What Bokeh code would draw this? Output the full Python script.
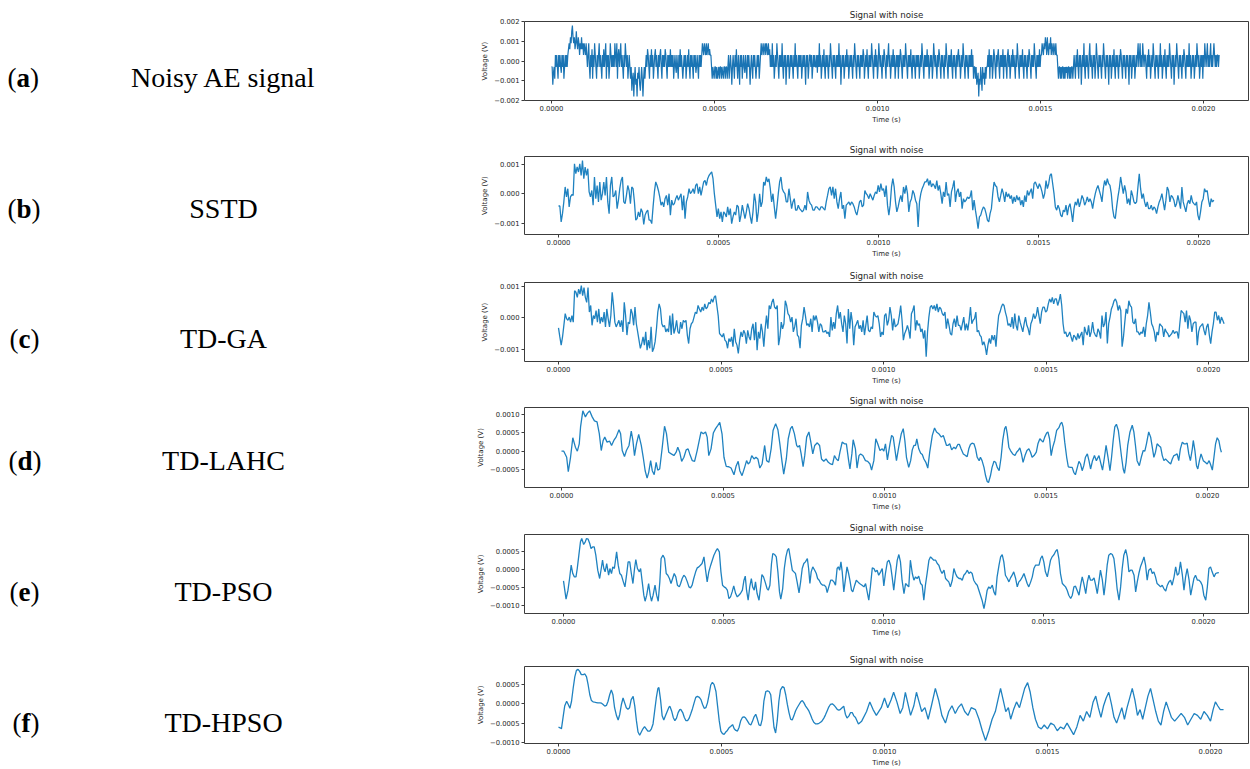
from bokeh.plotting import figure
from bokeh.layouts import row, column
from bokeh.models import Range1d, FixedTicker
from bokeh.core.properties import value
from bokeh.embed import file_html
from bokeh.resources import INLINE

# ---------------- data ----------------
TITLE = "Signal with noise"
X_LABEL = "Time (s)"
Y_LABEL = "Voltage (V)"
DURATION_US = 2048
XTICKS = [0.0, 0.0005, 0.0010, 0.0015, 0.0020]
XTICK_LABELS = ["0.0000", "0.0005", "0.0010", "0.0015", "0.0020"]

LETTERS = ["a", "b", "c", "d", "e", "f"]
METHODS = ["Noisy AE signal", "SSTD", "TD-GA", "TD-LAHC", "TD-PSO", "TD-HPSO"]

# (a) quantised noisy signal, in ADC steps of 0.3 mV, uniform sampling
A_STEP_V = 0.0003
A_LEVELS = [
    -1, -1, -4, -2, -1, -3,
    1, -1, 1, -1, -3, 1, -1, 1, -1, -2, 1, -1, 1, -3, -1, 1, -1, 1, -1,
    1, 2, 3, 2, 4, 3, 5, 6, 4, 3, 4, 2, 3, 5, 3, 2, 4, 3, 1, 3, 2, 4, 2, 3, 1, 3, 2, 1, 3, 1,
    -1, 1, 3, -1, -3, 1, -1, 2, -3, 1, -1, 3, 1, -1, -3, 1, -1, 1, 3, -1, 1, -1, -3, 1, -1, 2, -1, 1, 3, -3,
    1, -1, 1, -3, -1, 3, 1, -1, 1, -1,
    1, -1, 3, 1, -1, 3, -3, 1, 2, -1, 1, 3, -1, 1, -1, -3, 1, -1, 3, 1, -1, 1, -3, -1, 1,
    -1, -3, -1, -5, -3, -2, -6, -3, -1, -4, -3, -6, -2, -3, -1, -4, -5, -3, -1, -3, -6, -3, -1, -3, -1,
    1, -1, 2, 1, -1, -3, 1, -1, 2, -1, 1, -3, -1, 1, 2, -1, 1, -1, -3, 1, -1, 1, 2, -1, -3, 1, -1, 1, -1, 2,
    1, -1, -3, 1, -1, 1, -1, 2, -1, 1,
    -1, 1, -3, -1, 1, -1, -2, 1, -1, -3, 1, -1, 2, -1, 1, -1, -3, -1, 1, -1, 1, -3, -1, 1, -1, 2, -1, -3, 1, -1,
    1, -1, -3, 1, -1, 1, -2, -1, 1, -1, -3, 1, -1, 1, -1,
    1, 3, 2, 1, 3, 2, 1, 3, 1, 2, 3, 1, 2, 1, 1,
    -1, -3, -1, -2, -3, -1, -1, -3, -1, -3, -2, -1, -3, -1, -1, -3, -1, -2, -3, -1, -1, -3, -1, -1, -3,
    -1, 1, -3, -1, 1, -1, -4, -1, 1, -1, -3, 1, -1, 2, -1, -3, 1, -1, -4, 1, -1, 1, -3, -1, 1, -1, -2, 1, -1, -3,
    1, -1, 1, -1, -4, -1, 1, -1, -3, 1, -1, 1, -1, -3, -1, 1, -1, 1, -3, -1,
    1, 3, 1, 2, 3, 1, 2, 3, 1, 3, 2, 1, 3, 1, 2,
    -1, 1, -1, 3, -1, 1, -3, -1, 1, -1, 3, 1, -1, -3, 1, -1, 1, -1, 3, -1,
    -3, 1, -1, 1, -4, -1, 1, -1, 1, -3, -1, 1, -1, 1, -1, -3, 1, -1, 3, -1,
    1, -1, -3, 1, -1, 1, -1, 1, -3, -1, 1, -1, 1, -1, -4, 1, -1, 1, -3, -1,
    1, 1, -1, 1, -3, -1, 1, -1, 1, -1, -1, 1, -2, 1, -1, 3, -1, 1, -3, -1,
    1, -1, 2, -1, -3, 1, -1, 1, -1, -3, 1, -1, 3, 1, -1, -3, 1, -1, 1, -1,
    -3, 1, -1, 1, -1, 3, -1, 1, -4, -1, 1, -1, 1, -3, -1, 1, -1, 2, -1, 1,
    -3, -1, 1, -1, 1, -1, -3, 1, -1, 3, 1, -1, -3, 1, -1, 1, -1, -3, 1, -1,
    1, -1, 2, 1, -3, -1, 1, -1, 2, -1, -3, 1, -1, 1, -1, 3, 1, -1, -3, 1,
    -1, 2, -1, 1, -3, -1, 3, 1, -1, 1, -1, -3, 1, -1, 2, 1, -1, -3, 1, -1,
    1, 3, -1, 1, -3, -1, 1, -1, 2, -1, 1, -3, -1, 1, -1, 1, -3, 1, -1, 2,
    1, -1, -3, 1, -1, 1, -1, 3, 1, -1, -3, 1, -1, 1, -1, 2, -1, -3, 1, -1,
    1, -1, -3, 1, -1, 1, -1, 1, -3, -1, 1, -1, 3, 1, -1, -3, 1, -1, 1, -1,
    2, -1, 1, -3, -1, 1, -1, 1, -3, -1, 3, 1, -1, 1, -1, -3, 1, -1, 2, 1,
    -1, -3, 1, -1, 1, -1, -3, 1, -1, 3, 1, -1, -3, 1, -1, 1, -1, 2, -1, -3,
    1, -1, 1, -1, -3, 1, -1, 1, 2, -1, 1, -3, -1, 1, -1, 3, 1, -1, -3, 1,
    -1, 1, -1, -3, 1, -1, 1, -1, 2, -1, 1, -3, -1,
    -1, -3, -1, -4, -3, -2, -6, -3, -4, -1, -3, -5, -1, -3, -2, -4, -1, -3, -1, -1,
    1, -1, 2, -3, 1, -1, 1, -3, -1, 2, 1, -1, -3, 1, -1, 1, 2, -1, -3, 1,
    -1, 1, -1, 2, -3, 1, -1, 1, -1, -3, 1, 2, -1, 1, -3, -1, 1, -1, 2, -1,
    1, -1, -3, 1, -1, 3, 1, -1, -3, 1, -1, 1, -1, 2, -1, -3, 1, -1, 1, -1,
    -3, 1, -1, 2, 1, -1, -3, 1, -1, 1, -1, 3, 1, -1, -3, 1, -1, 1, -1, 2,
    -1, 1,
    1, 3, 2, 1, 3, 2, 4, 3, 1, 4, 2, 1, 3, 2, 4, 1, 3, 2, 1, 3, 2, 1, 3, 1, 1,
    -1, -3, -1, -1, -3, -1, -3, -1, -1, -3, -1, -3, -1, -2, -1, -3, -1, -1, -3, -1, -3, -1, -1, -3, -1,
    1, -1, -3, 1, -1, 2, -1, -3, 1, -1, 1, -4, -1, 1, -1, 3, -1, -3, 1, -1,
    1, -1, -3, 1, 3, -1, 1, -1, -3, 1, -1, 1, -3, -1, 3, 1, -1, -3, 1, -1,
    1, -1, -3, 1, -1, 3, 1, -1, -3, 1, -1, 1, -1, -4, 1, -1, 1, -3, -1, 1,
    -1, 2, -1, -3, 1, -1, 1, -1, -3, 1, -1, 2, 1, -1, -3, 1, -1, 1, -1, -3,
    1, -1, 1, -1, -4, 1, -1, 1, -3, -1, 1, -1, 1, -3, -1, 1, -1, 1, 3, -1,
    1, 3, -1, 1, -1, 3, 1, -1, 1, 1, -1, -3, 1, -1, 2, -1, 1, -3, -1, 1,
    -1, 3, 1, -1, -3, 1, -1, 1, -1, -3, 1, -1, 3, -1, 1, -3, -1, 1, -1, 2,
    -1, -3, 1, -1, 1, -1, 3, 1, -1, -3, 1, -1, 1, -4, -1, 1, -1, 3, 1, -1,
    -3, 1, -1, 1, -1, -3, 1, -1, 2, 1, -1, -3, 1, -1, 1, -1, 3, -1, 1, -3,
    -1, 1, -1, 1, -3, -1, 1, -1, 3, 1, -1, 1, -3, -1, 1, -1, 1, -3, 1, -1,
    3, 1, -1, 1, 3, -1, 1, -1, 1, 3, -1, 1, -1, 1, 3, 1, -1, 1, -1, 1,
    1, -1, 1]

# (b) SSTD, values in 1e-4 V, uniform sampling
B_V = [-4.1, -4.1, -9.5, -6.7, -2.7, 2.4, -1.0, 1.8, -4.4, -1.0, -0.2, -0.5, 10.3, 6.9, 9.2, 7.5, 10.3, 6.3, 11.4, 5.2,
       9.2, 6.3, 8.6, 0.7, -1.0, 1.2, -3.8, 5.8, -1.6, 2.9, -2.7, 4.1, -2.1, 0.1, 4.1, -0.5, 5.8, -2.7, -6.7, 2.9,
       5.8, -1.0, -0.5, 1.2, -5.0, -2.1, 1.8, 4.6, 5.8, -2.7, -3.3, -0.5, 2.9, 1.2, -3.3, 2.4, 1.8, -2.7, -8.9, -8.4,
       -6.1, -7.8, -5.0, -6.1, -10.4, -7.2, -6.1, -5.5, -8.9, -8.9, -10.1, -4.4, 0.7, 4.1, 2.9, 1.2, -1.0, -3.8, -2.7, -4.4,
       -1.6, -0.5, -3.8, 0.1, -7.2, -2.1, -3.8, -3.3, -1.6, -0.5, -2.1, -1.0, 0.1, -5.5, -0.5, -8.4, -2.7, -1.0, 1.8, 0.1,
       0.7, 1.8, 0.1, 2.9, 3.5, 0.1, 2.4, -0.5, 1.8, 4.1, 4.6, 2.9, 5.2, 6.3, 6.9, 7.5, 5.2, 0.1, -3.8, -7.8,
       -5.0, -8.4, -6.1, -9.5, -6.1, -6.7, -7.8, -4.4, -7.2, -5.0, -10.1, -7.8, -6.1, -7.2, -3.8, -4.4, -9.5, -7.2, -3.8, -6.1,
       -8.4, -6.1, -3.3, -5.0, -7.8, -10.1, -6.1, 0.1, -2.7, -9.5, -6.1, 0.1, -4.4, -2.7, 4.1, 2.9, 5.8, 4.1, 5.2, 1.8,
       -2.7, 0.1, -4.4, -8.4, -4.4, 0.1, 4.1, 5.8, 1.8, 0.7, 0.1, -2.7, -2.7, 1.8, -1.6, -5.0, -2.7, -1.6, -5.5, -5.5,
       -3.8, -5.0, -5.5, -6.1, -5.5, -3.8, -5.5, 0.7, -2.1, -3.3, -3.8, -5.5, -5.5, -4.4, -4.4, -5.0, -5.5, -4.4, -4.4, -5.0,
       -5.5, -2.7, -0.5, 1.8, 2.4, -0.5, 2.4, -1.6, 1.8, -2.7, -5.0, -1.6, 0.7, -5.0, -3.8, -8.4, -3.8, -3.3, -2.7, -3.8,
       -2.7, -3.3, -4.4, -6.1, -7.2, -5.0,
       -2.7, -2.1, -4.4, -3.8, 1.2, 0.1, -0.5, -1.6, 0.1, -1.0, -2.1, -0.5, 0.7, 0.1, 2.9, 0.7, 3.5, 1.2, 1.8, -1.0,
       2.9, -3.8, -7.2, -3.8, 2.4, 5.2, 2.4, -2.7, -6.1, -4.4, -2.1, -0.5, -2.7, 2.4, 0.1, 2.9, 0.1, -6.1, -2.7, -1.6,
       1.2, 0.1, -2.1, -3.3, -11.2, -2.7, 0.1, 1.8, 2.9, 4.1, 4.1, 5.2, 2.9, 4.6, 2.4, 3.5, 2.9, 1.8, 4.6, 1.2,
       2.9, 0.1, -3.3, 0.7, -1.0, 4.1, -0.5, 0.1, -4.4, 0.7, 2.4, 4.6, -2.7, 0.7, 1.8, -1.0, 0.7, -5.0, -1.6, -2.7,
       -2.1, -1.0, -1.6, -1.0, 1.2, -5.5, -2.1, -5.5, -8.4, -11.8, -7.8, -7.2, -5.5, -4.4, -5.0, -6.7, -8.9, -9.5, -6.7, -5.0,
       0.1, 4.1, 2.9, 2.4, -1.0, -2.7, -0.5, 1.8, 0.1, -2.7, 0.7, -1.0, 0.1, -1.6, -0.5, -3.3, -1.0, -2.7, -0.5, -2.1,
       -1.0, -3.8, -2.1, -4.4, -0.5, -2.7, 1.2, -0.5, 0.7, 1.8, -1.6, 3.5, 4.1, 2.9, 1.8, 3.5, 2.4, 0.7, -1.6, 0.1,
       4.6, 1.8, 3.5, 6.3, 6.9, 3.5, 0.1, -4.4, -5.5, -3.8, -5.0, -7.2, -7.8, -5.5, -6.1, -3.8, -7.2, -4.4, -3.3, -6.1,
       -9.5, -5.0, -2.7, -3.8, -1.6, -4.4, -2.7, -0.5, -1.6, -3.8, -2.7, -1.0, -2.7, -1.6, -2.7, -5.0, -2.1, 0.1, 1.8, 2.9,
       1.2, -0.5, -2.7, 1.8, 4.6, 2.9, 5.2, 3.5, 2.9, 0.1, -5.0, -7.8, -8.4, -4.4, -1.0, 1.8, 5.8, 2.9, 0.1, 2.9,
       0.7, -3.3, -1.6, -3.8, 1.2, -0.5, -2.7, -3.3, -2.7, 2.4, 6.9, 1.8, -1.6, 0.1, -2.7, -4.4, -2.7, -5.0, -5.0, -3.8,
       -5.5, -4.4, -5.0, -6.7, -4.4, -2.7, -1.6, 0.1, -2.7, -5.5, -2.1, 2.4, 1.2, -2.7, -0.5, -1.0, -2.1, -4.4, -3.3, -0.5,
       -2.7, -5.0, 2.4, -2.7, -4.4, -6.1, -3.3, -2.1, -3.3, -0.5, -2.7, -3.3, -3.8, -2.7, -7.2, -8.9, -6.1, -2.7, -1.6, 1.8,
       0.7, 1.2, -2.1, -4.4, -1.6, -2.7, -2.1]

# (c) TD-GA, values in 1e-4 V, uniform sampling
C_V = [-3.2, -6.1, -8.7, -6.1, -2.4, 1.3, -0.3, -0.8, 0.2, -1.4, 0.7, -1.4, 8.6, 8.1, 6.5, 9.1, 7.5, 10.2, 7.0, 9.6,
       6.5, 4.9, 9.6, 1.8, 3.9, -2.4, 0.7, -0.3, 2.3, -1.4, 2.8, -1.9, 0.2, -1.4, 1.8, -2.9, 2.8, -0.3, -2.9, 0.7,
       8.1, 3.9, -1.4, -2.9, -1.9, -0.8, -2.9, -0.8, -4.5, 4.9, 0.7, -5.5, -1.4, -1.9, 2.8, 1.3, -2.4, 3.4, -1.9, -4.5,
       -7.1, -9.7, -8.2, -6.1, -8.7, -4.5, -10.3, -7.1, -9.7, -2.9, -10.8, -9.7, -7.6, -3.5, 1.8, 4.4, 2.8, -1.9, -2.9, -2.4,
       -4.5, -3.5, -4.5, 0.7, -5.5, 1.3, -5.0, -3.5, -0.8, -4.5, -5.0, -1.4, -3.5, -0.8, -1.4, -0.8, -5.5, -8.2, -3.5, -1.9,
       -1.4, 0.2, 1.8, 1.3, 3.9, 2.8, 1.8, 3.4, 2.3, 4.4, 2.8, 3.4, 4.9, 4.4, 6.0, 4.9, 6.5, 7.0, 3.9, 0.7,
       -5.0, -5.5, -6.1, -5.0, -7.1, -7.6, -9.7, -6.6, -7.6, -6.1, -9.2, -3.5, -7.6, -8.7, -11.3, -7.1, -4.5, -6.1, -4.0, -5.0,
       -8.2, -4.0, -6.1, -7.1, -3.5, -1.9, -7.1, -1.4, -10.3, -4.5, -6.6, -1.9, -4.5, -9.2, -3.5, 0.7, -3.5, 3.9, 2.8, 4.9,
       6.0, 3.4, 2.8, 3.9, -8.7, -6.1, -1.4, -3.5, -1.9, 5.4, 3.9, 1.3, 0.7, -1.4, 0.2, -4.5, -2.9, -0.3, -5.5, -6.1,
       -9.7, -2.4, -0.3, 3.4, 0.7, -2.4, -1.9, -2.9, -0.3, -4.5, 0.7, -0.8, 0.7, -1.4, -4.5, -1.9, -2.4, -4.5, -4.5, -4.0,
       -5.0, -4.5, -6.1, 0.2, -4.0, -1.4, -3.5, 1.3, 3.9, -0.3, 1.8, -1.9, -4.5, 0.7, -1.9, -8.2, 2.8, -3.5, 1.8, -1.4,
       -8.7, -2.9, -1.9, -0.8, -3.5, -2.4, -4.5,
       -0.8, -5.5, -2.4, 0.7, -4.0, -4.5, -2.9, -3.5, 1.8, 0.7, 0.2, 0.7, -1.9, -6.1, -4.5, -5.5, 0.7, 1.3, -2.4, -0.8,
       3.4, 0.7, -4.0, -0.3, -2.9, -2.4, -1.9, 0.7, 3.9, -0.8, -7.1, -5.0, -4.0, -2.4, -4.0, -6.6, 1.3, 2.3, 3.9, -4.0,
       -0.8, -2.4, -1.9, -4.5, -3.5, -6.6, -4.0, -12.4, -4.5, 0.2, 3.4, 3.9, 2.8, 3.9, 2.3, 4.4, 1.8, 3.4, 2.8, 1.3,
       0.7, 1.8, -3.5, -0.3, -2.4, -5.0, -5.5, -1.9, -0.3, -2.9, 0.7, -2.4, -2.4, -4.0, -1.9, 0.2, -4.0, -1.9, -4.0, -0.8,
       3.4, -1.9, -0.8, -0.3, 1.8, -4.5, -4.0, -5.5, -6.1, -8.7, -7.6, -9.2, -11.8, -8.7, -6.6, -8.2, -5.5, -7.1, -5.5, -9.2,
       -3.5, 0.7, 1.8, 3.4, 4.4, 3.9, 1.8, 0.2, -2.4, -1.9, -2.9, 0.2, -3.5, 1.3, -2.4, -4.0, 0.7, -1.4, -2.9, -4.5,
       -1.9, 0.2, -2.4, -3.5, -5.5, -1.9, -0.8, 1.3, -0.3, 0.7, 3.4, 0.7, -1.9, 1.8, 3.4, 3.4, 1.8, 2.3, 4.4, 6.0,
       4.9, 6.5, 4.4, 6.0, 6.0, 3.9, 5.4, 7.5, 3.9, -1.9, -5.0, -4.5, -6.1, -5.5, -4.5, -6.1, -7.6, -5.5, -6.1, -7.1,
       -5.0, -6.6, -5.5, -4.5, -8.7, -2.9, -4.5, -5.5, -2.4, -6.1, -4.5, -1.4, -4.5, -5.5, -6.1, -3.5, -4.5, -6.6, 0.7, -2.9,
       -1.9, 1.8, -8.2, -1.9, 0.2, 2.8, 3.9, 5.4, 6.0, 4.9, 2.3, 3.9, 2.3, -9.2, -6.1, -1.4, 2.8, 1.3, 5.4, 3.9,
       3.4, -1.4, -1.9, -0.3, -4.5, -4.5, -5.5, -4.5, -5.0, -2.9, -6.1, -1.9, 0.7, 4.9, 1.8, -1.9, -2.9, -4.5, -7.6, -4.5,
       -5.5, -1.9, -2.4, -2.9, -6.1, -3.5, -4.5, -5.0, -6.1, -5.5, -5.0, -4.0, -5.0, -4.5, -4.5, -6.6, -1.9, 2.3, 1.8, 1.3,
       -1.4, 2.3, -3.5, 0.7, -0.8, -4.5, -1.9, -1.4, -1.4, -8.7, -4.5, -2.9, -2.4, -1.9, -4.0, -5.5, -2.9, -1.9, -5.5, -8.2,
       -4.5, -1.9, 1.8, 1.8, -0.8, 0.7, -1.9, 0.2, -0.8, -1.9]

# (d) TD-LAHC, (time in us, value in 1e-4 V)
D_PTS = [(0, 0), (7, 0), (16, -1.64), (21, -5.55), (28, -1.64), (35, 3.64), (43, 1.09), (49, 0), (55, 2.0), (59, 6.55),
         (66, 10.9), (74, 9.27), (80, 10.2), (87, 10.9), (95, 9.27), (102, 8.18), (110, 7.9), (117, 4.73), (123, 0.18),
         (129, 2.9), (134, 3.8), (141, 2.45), (149, 2.7), (155, 1.55), (162, 2.9), (169, 3.8), (178, 5.8), (183, 4.7),
         (188, 0.2), (195, -1.45), (201, 0.2), (209, 1.55), (216, 5.45), (221, 2.9), (226, -1.2), (232, 2.0), (239, 4.55),
         (247, 1.55), (253, -1.64), (259, -5.27), (265, -7.27), (270, -5.7), (276, -2.55), (281, -5.27), (287, -6.36),
         (293, -3.0), (298, -5.1), (304, -4.8), (312, 1.09), (319, 6.73), (325, 4.73), (332, -0.27), (340, -0.73),
         (348, -1.18), (355, -0.27), (360, 1.09), (366, -0.27), (372, -2.73), (379, -1.64), (386, 0.36), (392, 0.64),
         (397, -0.73), (405, -2.55), (412, -2.73), (420, 0.18), (427, 3.1), (432, 5.2), (439, 4.7), (446, 5.2), (451, 3.8),
         (456, -1.2), (463, 0.64), (470, 4.9), (477, 6.1), (484, 7.0), (490, 7.8), (497, 4.7), (503, -1.64), (510, -4.1),
         (518, -4.2), (525, -4.55), (534, -6.36), (541, -3.9), (547, -2.73), (552, -5.27), (559, -6.6), (567, -4.36),
         (573, -2.55), (578, -3.45), (583, -3.0), (589, -1.2), (596, -2.1), (602, -1.64), (608, -2.1), (614, -4.55),
         (621, -3.45), (629, 1.55), (635, -2.55), (642, -3.0), (649, 0.64), (655, 5.6), (663, 7.45), (670, 5.8), (676, 2.0),
         (683, -3.0), (688, -6.2), (696, -2.1), (702, 3.36), (709, 6.1), (714, 6.73), (721, 4.73), (728, 1.55), (732, 1.09),
         (737, 1.55), (742, -0.73), (748, -4.2), (753, -1.2), (759, 3.8), (766, 5.2), (771, 2.9), (778, -0.73), (784, 1.55),
         (792, 2.27), (799, 1.55), (805, -2.1), (812, -2.73), (819, -2.1), (826, -3.0), (833, -3.45), (839, -3.64),
         (845, -1.2), (851, -2.1), (857, -2.55), (862, -0.27), (869, 2.45), (876, 2.0), (882, 2.0), (889, -2.55),
         (893, -4.8), (899, -0.73), (903, 3.1), (910, 0.64), (915, -4.55), (921, -1.2),
         (926, -0.73), (933, -1.18), (941, -2.55), (948, -2.73), (955, -3.45), (960, -5.1), (967, -2.55), (973, 3.36),
         (979, 2.0), (986, 0.18), (993, 0.64), (998, 0), (1003, 2.0), (1009, -2.36), (1017, 2.0), (1022, 4.27), (1027, 3.8),
         (1032, 0.64), (1037, -2.55), (1044, 1.09), (1052, 4.73), (1058, 6.1), (1063, 2.9), (1068, -1.64), (1075, -4.36),
         (1081, -2.55), (1086, 0.36), (1091, 1.55), (1096, 1.55), (1100, 3.36), (1106, 0.64), (1112, -0.55), (1117, -0.91),
         (1122, -2.1), (1128, -3.0), (1134, -4.55), (1140, -0.27), (1148, 4.27), (1155, 6.27), (1161, 5.2), (1168, 4.73),
         (1176, 3.8), (1182, 4.27), (1187, 2.9), (1192, 1.55), (1196, 1.55), (1202, 2.0), (1208, 0.36), (1215, 1.09),
         (1220, 0.64), (1227, 1.82), (1232, 1.82), (1237, 0.64), (1244, -0.73), (1251, -1.18), (1256, -1.45), (1261, 0.64),
         (1266, 1.82), (1271, 2.18), (1277, 2.0), (1282, 0.64), (1287, -1.64), (1293, -2.55), (1297, -1.64), (1302, -2.55),
         (1308, -4.36), (1313, -6.64), (1318, -8.18), (1322, -8.45), (1328, -6.64), (1333, -4.36), (1339, -2.73),
         (1344, -3.0), (1349, -4.36), (1355, -5.27), (1361, -1.64), (1366, 2.9), (1372, 6.1), (1376, 6.73), (1380, 4.73),
         (1385, 1.09), (1390, 0.18), (1397, -0.73), (1404, -1.18), (1409, -0.27), (1414, 0.18), (1419, 0.91), (1424, -0.73),
         (1429, -3.0), (1435, -1.18), (1441, 0.18), (1447, 0.64), (1452, -0.27), (1457, -1.64), (1463, -1.18), (1470, -0.27),
         (1475, 2.0), (1481, 3.36), (1486, 2.9), (1491, 2.45), (1496, 3.8), (1502, 4.9), (1506, 5.2), (1511, 3.36),
         (1516, -1.18), (1521, 1.09), (1527, 2.9), (1533, 5.6), (1540, 6.36), (1545, 7.45), (1549, 7.8), (1553, 6.55),
         (1558, 2.45), (1564, -1.64), (1569, -4.2), (1576, -4.36), (1581, -4.36), (1586, -5.7), (1591, -6.36), (1597, -4.36),
         (1602, -2.73), (1607, -3.45), (1612, -5.27), (1617, -3.9), (1622, -1.64), (1628, -0.73), (1633, -2.55),
         (1638, -4.8), (1644, -2.55), (1650, -1.18), (1656, -2.55), (1664, -1.18), (1669, -3.0), (1675, -5.1), (1681, -1.64),
         (1686, 1.55), (1692, -1.64), (1698, -5.27), (1703, -1.64), (1708, 2.9), (1713, 6.55), (1718, 7.27), (1724, 5.6),
         (1729, 2.0), (1734, -1.64), (1739, -4.8), (1743, -6.0), (1748, -3.0), (1753, 1.55), (1760, 5.2), (1767, 7.0),
         (1772, 5.2), (1777, 1.55), (1782, -2.55), (1789, -3.9), (1795, -1.64), (1801, 0.18), (1806, 0), (1811, 2.0),
         (1818, 5.2), (1824, 3.8), (1829, 1.09), (1834, -1.64), (1839, -0.27), (1844, 2.0), (1849, 1.55), (1855, 1.09),
         (1860, -1.18), (1865, -2.55), (1870, -2.1), (1875, -2.55), (1880, -3.0), (1886, -3.45), (1891, -2.1), (1896, -1.18),
         (1901, -1.0), (1906, -0.73), (1911, -2.55), (1916, 0.64), (1922, 2.45), (1927, 2.0), (1933, 2.0), (1937, 2.18),
         (1942, -0.73), (1947, -2.55), (1953, 0.64), (1956, 2.9), (1961, 0.18), (1966, -3.9), (1970, -4.8), (1975, -2.55),
         (1980, -0.73), (1987, -2.55), (1993, -3.0), (1999, -3.45), (2005, -2.55), (2009, -3.45), (2015, -5.1),
         (2020, -1.64), (2025, 2.0), (2030, 3.64), (2035, 2.9), (2040, 0.64), (2043, -0.27)]

# (e) TD-PSO, (time in us, value in 1e-4 V)
E_PTS = [(0, -3.24), (4, -5.83), (8, -8.33), (14, -5.83), (19, -2.59), (24, 1.11), (29, -1.2), (34, -2.13), (39, -2.13),
         (43, 0.19), (48, 3.89), (53, 7.59), (57, 8.52), (63, 6.85), (68, 7.59), (72, 8.52), (77, 8.33), (82, 7.13),
         (86, 5.74), (92, 6.2), (96, 6.2), (101, 3.89), (107, -0.28), (113, -2.59), (118, 0.19), (122, 2.5), (126, 0.19),
         (130, -0.74), (135, 1.57), (141, -1.67), (145, 0.19), (150, -1.2), (154, 0.65), (159, 0.19), (166, 4.81),
         (171, 1.11), (176, -1.2), (181, -1.67), (187, -3.52), (192, -4.91), (197, -1.67), (202, 2.04), (207, 2.04),
         (212, -1.2), (217, -3.98), (222, 0.19), (226, 2.69), (231, 0.19), (237, -0.74), (241, 0.19), (246, -3.52),
         (251, -7.22), (255, -8.89), (260, -7.22), (266, -3.98), (271, -7.22), (275, -8.89), (280, -7.22), (286, -4.44),
         (291, -7.22), (296, -8.89), (301, -3.52), (305, 2.96), (311, 3.89), (316, 2.96), (321, -1.2), (326, -1.67),
         (331, -2.59), (336, -3.98), (341, -2.59), (346, -1.2), (351, -2.13), (356, -4.44), (362, -4.91), (366, -3.98),
         (371, -2.59), (376, -1.67), (381, -2.13), (387, -3.52), (392, -4.91), (397, -5.19), (402, -4.44), (407, -2.59),
         (413, -0.74), (418, 0.37), (423, 0.65), (428, 1.11), (433, 1.57), (439, 3.43), (444, -0.28), (449, -3.52),
         (454, -0.74), (460, 1.11), (465, 2.5), (470, 3.89), (476, 5.0), (481, 5.74), (487, 4.81), (492, -0.74),
         (497, -4.44), (502, -4.91), (507, -5.19), (512, -5.83), (517, -8.15), (522, -7.69), (527, -6.3), (532, -4.63),
         (538, -6.76), (543, -7.69), (548, -7.22), (553, -6.76), (559, -5.83), (564, -3.06), (568, -1.94), (572, -5.83),
         (577, -8.61), (582, -4.91), (587, -2.59), (591, -4.91), (596, -5.83), (600, -3.52), (605, -6.76), (611, -8.61),
         (616, -4.91), (620, -1.48), (625, -2.13), (630, -3.52), (636, -5.37), (640, -5.83), (645, -4.44), (650, 1.57),
         (654, 4.35), (660, 4.07), (665, 3.43), (670, -0.74), (675, -6.3), (679, -8.33), (685, -5.37), (690, 0.19),
         (695, 3.43), (700, 5.28), (704, 5.74), (710, 2.5), (715, -0.28), (720, -0.74), (725, -1.2), (730, -3.52),
         (736, -6.57), (741, -3.52), (746, 0.19), (751, 1.57), (756, 2.04), (762, 2.96), (766, 0.19), (770, -3.98),
         (774, -0.74), (779, 0.65), (785, -0.28), (790, -1.2), (794, -2.59), (799, -3.06), (804, -3.98), (810, -4.44),
         (815, -4.44), (820, -4.91), (824, -6.48), (829, -4.91), (835, -3.06), (840, -3.06), (845, -3.52), (850, -4.44),
         (855, 0.19), (859, 0.65), (863, -0.28), (867, 2.04), (871, -0.74), (876, -6.3), (880, -3.52), (886, 0.65),
         (891, -1.2), (895, -3.06), (900, -5.83), (904, -6.3), (910, -4.44), (915, -3.06), (920, -3.52), (925, -3.98),
         (933, -4.44), (939, -4.91), (944, -3.98), (949, -6.3), (954, -8.61), (959, -4.91), (965, 0.37), (970, 0.19),
         (975, -0.74), (980, -0.28), (985, -1.67), (991, -0.74), (996, 0.19), (1001, -4.63), (1006, -1.2), (1012, 2.04),
         (1017, 2.5), (1022, 1.11), (1027, -2.13), (1032, -5.83), (1038, -1.2), (1043, 2.5), (1048, 4.07), (1053, 2.04),
         (1058, -3.06), (1064, -6.76), (1069, -3.98), (1074, -4.44), (1079, -4.91), (1084, 2.5), (1090, -1.2), (1095, -3.06),
         (1100, -2.13), (1105, -2.59), (1110, -1.94), (1116, -3.98), (1121, -4.44), (1126, -8.61), (1131, -4.44),
         (1137, -0.74), (1142, 2.5), (1147, 3.43), (1152, 2.96), (1157, 2.5), (1163, 2.5), (1168, 1.57), (1173, 1.11),
         (1178, -0.28), (1183, -1.2), (1189, -0.28), (1194, -2.59), (1199, -3.06), (1204, -3.52), (1209, -4.91),
         (1215, -3.06), (1220, 0.19), (1225, -1.2), (1230, -2.13), (1236, -2.59), (1241, -2.59), (1246, -3.06),
         (1251, -1.67), (1256, -1.2), (1262, -0.28), (1267, -1.2), (1272, -0.74), (1277, -1.2), (1282, -3.06), (1288, -3.98),
         (1293, -4.44), (1298, -5.83), (1303, -7.22), (1308, -8.61), (1314, -10.93), (1319, -8.61), (1324, -5.83),
         (1329, -4.91), (1334, -5.37), (1340, -4.44), (1345, -6.3), (1350, -7.22), (1355, -2.13), (1361, 1.11), (1366, 3.43),
         (1371, 4.07), (1376, 2.04), (1381, -1.67), (1387, -2.59), (1392, -3.52), (1397, -2.41), (1402, -1.67),
         (1407, -0.74), (1413, -2.59), (1418, -4.91), (1423, -3.52), (1428, -3.06), (1434, -2.13), (1439, -1.2),
         (1444, -2.59), (1449, -3.98), (1454, -4.91), (1460, -3.52), (1465, -2.13), (1470, 0.19), (1475, 1.11), (1480, 1.11),
         (1486, 1.11), (1491, 2.96), (1496, 3.7), (1501, 2.04), (1506, -0.74), (1512, -2.13), (1517, 0.19), (1522, 2.5),
         (1527, 3.43), (1533, 4.07), (1538, 5.0), (1543, 5.46), (1548, 2.96), (1553, -1.2), (1559, -3.98), (1564, -4.44),
         (1569, -4.91), (1574, -5.83), (1579, -7.22), (1585, -8.15), (1590, -7.22), (1595, -4.91), (1600, -4.72),
         (1605, -5.83), (1611, -7.22), (1616, -4.44), (1621, -2.13), (1626, -3.98), (1632, -6.76), (1637, -3.52),
         (1642, -1.67), (1647, -3.06), (1652, -3.06), (1658, -2.41), (1663, -4.44), (1668, -6.76), (1673, -3.52),
         (1678, -0.28), (1684, -3.06), (1689, -7.22), (1694, -3.52), (1699, 1.11), (1704, 3.89), (1710, 4.35), (1715, 4.07),
         (1720, 2.96), (1725, -0.74), (1730, -5.37), (1736, -8.61), (1741, -4.91), (1746, 0.19), (1751, 3.89), (1757, 5.46),
         (1762, 3.43), (1767, -0.74), (1772, -0.28), (1777, -0.28), (1783, -1.67), (1788, -6.3), (1793, -3.52), (1798, -1.2),
         (1803, 0.65), (1809, 2.04), (1814, 3.43), (1819, 1.11), (1824, -3.06), (1829, -0.28), (1835, 0.19), (1840, -1.2),
         (1845, -0.74), (1850, -2.13), (1855, -3.98), (1861, -4.44), (1866, -4.91), (1871, -4.44), (1876, -5.37),
         (1882, -6.11), (1887, -4.44), (1892, -3.52), (1897, -3.06), (1902, -4.44), (1908, -2.13), (1913, 0.65),
         (1918, -1.67), (1923, -1.2), (1928, 2.04), (1934, -1.67), (1939, -5.83), (1944, -2.13), (1949, 0.19), (1955, -3.06),
         (1960, -7.22), (1965, -4.91), (1970, -2.59), (1975, -1.67), (1981, -3.06), (1986, -3.06), (1991, -3.52),
         (1996, -4.44), (2001, -7.22), (2007, -8.61), (2012, -4.91), (2017, 0.19), (2022, 0.65), (2027, -0.74),
         (2033, -2.13), (2038, -1.2), (2043, -1.02), (2048, -0.93)]

# (f) TD-HPSO, (time in us, value in 1e-4 V)
F_PTS = [(0, -6.07), (5, -6.23), (9, -6.49), (14, -3.54), (19, -0.59), (25, 0.67), (30, -0.17), (35, -1.18), (40, 0.67),
         (45, 4.04), (50, 6.99), (55, 8.68), (60, 8.93), (65, 8.42), (70, 7.58), (76, 7.58), (81, 7.75), (86, 6.99),
         (91, 4.89), (96, 2.36), (101, 0.84), (106, 0.51), (111, 0.42), (116, 0.34), (121, 0.25), (127, 0.25), (132, 0.17),
         (137, -0.17), (142, -0.59), (147, -0.42), (152, 0.67), (157, 2.36), (162, 3.62), (167, 2.36), (172, -1.01),
         (178, -3.12), (183, -4.21), (188, -2.7), (193, -0.17), (198, 1.52), (203, 0.25), (208, -1.01), (213, -1.43),
         (218, -1.01), (223, 1.1), (229, 1.94), (234, -0.59), (239, -4.38), (244, -7.33), (249, -8.17), (254, -7.33),
         (259, -6.49), (264, -5.9), (269, -6.49), (274, -7.08), (280, -7.08), (285, -6.49), (290, -5.22), (295, -1.85),
         (300, 1.52), (305, 4.04), (308, 4.21), (313, 1.1), (318, -3.12), (323, -4.21), (328, -3.12), (334, -1.85),
         (339, -0.84), (342, -0.67), (347, -1.85), (352, -3.54), (357, -4.38), (362, -3.71), (367, -2.27), (372, -1.52),
         (375, -1.43), (381, -2.27), (386, -3.54), (391, -4.38), (396, -4.38), (401, -3.71), (406, -2.53), (411, -1.26),
         (416, 0.25), (421, 1.68), (426, 1.94), (432, 1.68), (437, 1.1), (442, -0.17), (447, -1.18), (452, -1.01),
         (457, 0.25), (462, 2.36), (467, 4.89), (472, 5.56), (477, 5.05), (483, 3.2), (488, -0.59), (493, -4.38),
         (498, -7.08), (503, -7.75), (508, -7.92), (513, -7.33), (518, -6.91), (523, -6.23), (528, -5.9), (534, -5.39),
         (539, -6.49), (544, -6.91), (549, -7.08), (554, -6.07), (559, -4.38), (564, -3.54), (569, -3.37), (574, -3.71),
         (579, -4.38), (585, -5.22), (590, -5.48), (595, -4.55), (600, -3.37), (605, -2.7), (610, -3.96), (615, -5.48),
         (620, -5.64), (625, -3.96), (630, 0.67), (636, 3.2), (641, 3.37), (646, 3.2), (651, 2.36), (656, -1.85),
         (661, -6.07), (666, -7.58), (671, -4.38), (676, 0.67), (681, 3.62), (687, 4.47), (692, 4.21), (697, 2.36),
         (702, -0.17), (707, -2.27), (712, -3.96), (717, -4.21), (722, -3.12), (727, -1.85), (732, -1.01), (738, -0.17),
         (743, 0.51), (748, 0.84), (753, 0.25), (758, -0.59), (763, -1.18), (768, -1.85), (773, -2.86), (778, -3.96),
         (783, -4.8), (789, -5.22), (794, -5.22), (799, -5.05), (804, -4.8), (809, -4.38), (814, -3.71), (819, -2.86),
         (824, -1.85), (829, -0.84), (834, -0.17), (840, 0), (845, -0.34), (850, -0.84), (855, -1.43), (860, -1.68),
         (865, -1.43), (870, -1.01), (875, -0.59), (880, -2.7), (885, -3.71), (891, -3.12), (896, -2.27), (901, -2.27),
         (906, -3.12), (911, -3.54), (920, -5.22),
         (930, -4.5), (945, -2.0), (955, 0.5), (965, -1.5), (975, -3.0), (990, -1.0), (1000, 1.5), (1010, -1.0),
         (1020, 1.0), (1028, 3.0), (1038, 0.5), (1048, -2.5), (1056, -1.0), (1064, 3.0), (1072, 0.0), (1080, -3.0),
         (1090, -0.5), (1098, 3.0), (1106, 0.5), (1114, -2.0), (1124, -1.0), (1134, -4.0), (1144, -0.5), (1156, 4.0),
         (1166, 1.0), (1176, -3.0), (1187, -5.0), (1197, -2.0), (1207, -0.5), (1217, -2.5), (1226, -1.0), (1236, 0.0),
         (1246, -2.0), (1256, -3.0), (1266, -1.0), (1279, -1.5), (1290, -4.0), (1300, -7.0), (1310, -9.5), (1320, -7.0),
         (1330, -4.0), (1340, -2.0), (1348, 1.0), (1356, 4.0), (1364, 1.0), (1372, -2.0), (1380, -1.0), (1387, -4.0),
         (1396, -1.5), (1405, 0.5), (1414, -1.0), (1422, 1.5), (1430, 4.0), (1439, 5.5), (1447, 3.0), (1455, -1.0),
         (1463, -4.0), (1472, -6.0), (1481, -6.5), (1490, -5.5), (1500, -6.5), (1510, -5.0), (1520, -5.5), (1530, -7.0),
         (1540, -6.0), (1550, -6.5), (1560, -5.0), (1570, -6.5), (1580, -8.0), (1590, -6.0), (1600, -3.0), (1610, -4.5),
         (1620, -2.0), (1630, -3.5), (1640, 0.5), (1648, 2.0), (1656, -1.0), (1664, -3.5), (1672, -0.5), (1680, 1.5),
         (1688, 3.0), (1696, 0.0), (1704, -3.5), (1712, -5.0), (1720, -3.0), (1728, -1.0), (1736, -4.0), (1744, -1.0),
         (1752, 1.5), (1760, 4.0), (1768, 1.0), (1776, -3.0), (1784, -1.5), (1792, -4.0), (1800, -1.0), (1808, 2.0),
         (1816, 4.0), (1824, 1.0), (1832, -2.0), (1840, -4.5), (1848, -5.5), (1856, -2.0), (1864, 0.5), (1872, -1.5),
         (1880, -3.5), (1890, -4.5), (1900, -3.5), (1910, -2.5), (1920, -3.5), (1930, -5.5), (1940, -4.0), (1950, -2.5),
         (1960, -3.0), (1970, -4.0), (1980, -2.0), (1990, -3.0), (2000, -4.5), (2008, -1.5), (2015, 0.5), (2022, -0.5),
         (2030, -1.5), (2040, -1.5)]

A_YTICKS = [-0.002, -0.001, 0.0, 0.001, 0.002]
A_YLABELS = ["\u22120.002", "\u22120.001", "0.000", "0.001", "0.002"]
BC_YTICKS = [-0.001, 0.0, 0.001]
BC_YLABELS = ["\u22120.001", "0.000", "0.001"]
D_YTICKS = [-0.0005, 0.0, 0.0005, 0.001]
D_YLABELS = ["\u22120.0005", "0.0000", "0.0005", "0.0010"]
EF_YTICKS = [-0.001, -0.0005, 0.0, 0.0005]
EF_YLABELS = ["\u22120.0010", "\u22120.0005", "0.0000", "0.0005"]

LINE_COLOR = "#1f82c0"
LINE_COLOR_A = "#1a74b4"
FRAME_COLOR = "#3c3c3c"
TEXT_COLOR = "#262626"

# ---------------- helpers ----------------
LABEL_COL_W = 440
FRAME_LEFT = 524      # plots in a column share one frame edge
FRAME_RIGHT = 1248


def uniform_series(vals, scale):
    n = len(vals)
    t = [i * DURATION_US * 1e-6 / (n - 1) for i in range(n)]
    return t, [v * scale for v in vals]


def pts_series(pts):
    return [p[0] * 1e-6 for p in pts], [p[1] * 1e-4 for p in pts]


def panel(t, v, yr, yticks, ylabels, x0_px, px_per_s, top, frame_h, bottom, color=LINE_COLOR, lw=1.3):
    x_start = -(x0_px - FRAME_LEFT) / px_per_s
    x_end = (FRAME_RIGHT - x0_px) / px_per_s
    p = figure(width=1250 - LABEL_COL_W, height=top + frame_h + bottom,
               x_range=Range1d(x_start, x_end), y_range=Range1d(yr[0], yr[1]),
               output_backend="svg", toolbar_location=None,
               min_border_left=FRAME_LEFT - LABEL_COL_W, min_border_right=1250 - FRAME_RIGHT,
               min_border_top=top, min_border_bottom=bottom, title=TITLE)
    p.title.align = "center"
    p.title.text_font = "DejaVu Sans"
    p.title.text_font_size = "8.7px"
    p.title.text_font_style = "normal"
    p.title.text_color = TEXT_COLOR
    p.title.standoff = 3
    p.outline_line_color = FRAME_COLOR
    p.outline_line_width = 1
    p.xgrid.grid_line_color = None
    p.ygrid.grid_line_color = None
    p.background_fill_color = "white"
    p.border_fill_color = "white"

    p.xaxis.ticker = FixedTicker(ticks=XTICKS)
    p.xaxis.major_label_overrides = dict(zip(XTICKS, XTICK_LABELS))
    p.yaxis.ticker = FixedTicker(ticks=yticks)
    p.yaxis.major_label_overrides = dict(zip(yticks, ylabels))
    p.xaxis.axis_label = X_LABEL
    p.yaxis.axis_label = Y_LABEL
    for ax in (p.xaxis[0], p.yaxis[0]):
        ax.axis_line_color = None
        ax.major_tick_line_color = FRAME_COLOR
        ax.major_tick_out = 3
        ax.major_tick_in = 0
        ax.minor_tick_line_color = None
        ax.major_label_text_font = "DejaVu Sans"
        ax.major_label_text_font_size = "6.8px"
        ax.major_label_text_color = TEXT_COLOR
        ax.major_label_standoff = 2
        ax.axis_label_text_font = "DejaVu Sans"
        ax.axis_label_text_font_size = "7px"
        ax.axis_label_text_font_style = "normal"
        ax.axis_label_text_color = TEXT_COLOR
        ax.axis_label_standoff = 2
    p.line(t, v, line_color=color, line_width=lw)
    return p


# ---------------- panels ----------------
ta, va = uniform_series(A_LEVELS, A_STEP_V)
tb, vb = uniform_series(B_V, 1e-4)
tc, vc = uniform_series(C_V, 1e-4)
td, vd = pts_series(D_PTS)
te, ve = pts_series(E_PTS)
tf, vf = pts_series(F_PTS)

pa = panel(ta, va, (-0.002, 0.002), A_YTICKS, A_YLABELS, 551, 326000, 21, 79, 36, color=LINE_COLOR_A, lw=1.2)
pb = panel(tb, vb, (-0.00138, 0.001277), BC_YTICKS, BC_YLABELS, 558, 320000, 20, 78, 28)
pc = panel(tc, vc, (-0.00139, 0.00112), BC_YTICKS, BC_YLABELS, 558, 325000, 20, 80, 25)
pd = panel(td, vd, (-0.00098, 0.00118), D_YTICKS, D_YLABELS, 561, 323000, 20, 80, 27)
pe = panel(te, ve, (-0.00123, 0.000963), EF_YTICKS, EF_YLABELS, 563, 320000, 20, 79, 33)
pf = panel(tf, vf, (-0.00103, 0.000969), EF_YTICKS, EF_YLABELS, 558, 326000, 20, 79, 24)

# ---------------- left labels ----------------
lab = figure(width=LABEL_COL_W, height=769, x_range=Range1d(0, LABEL_COL_W), y_range=Range1d(769, 0),
             output_backend="svg", toolbar_location=None, min_border=0,
             x_axis_location=None, y_axis_location=None)
lab.outline_line_color = None
lab.grid.grid_line_color = None
baselines = [77, 208, 338, 460, 591, 722]
paren_x = [7, 7, 9, 8, 9, 12]
font_px = 27
bold_w = {"a": 0.5, "b": 0.556, "c": 0.444, "d": 0.556, "e": 0.444, "f": 0.333}
open_w = 0.333 * font_px
letter_x = [x + open_w for x in paren_x]
close_x = [lx + bold_w[L] * font_px for lx, L in zip(letter_x, LETTERS)]
common = dict(text_font=value("Liberation Serif"), text_baseline="alphabetic", text_color="black")
lab.text(x=paren_x, y=baselines, text=["("] * 6, text_align="left", text_font_size=f"{font_px}px", **common)
lab.text(x=letter_x, y=baselines, text=LETTERS, text_align="left", text_font_style="bold",
         text_font_size=f"{font_px}px", **common)
lab.text(x=close_x, y=baselines, text=[")"] * 6, text_align="left", text_font_size=f"{font_px}px", **common)
lab.text(x=[223] * 6, y=baselines, text=METHODS, text_align="center", text_font_size="28px", **common)

layout = row(lab, column(pa, pb, pc, pd, pe, pf))
open("out.html", "w").write(file_html(layout, INLINE))
